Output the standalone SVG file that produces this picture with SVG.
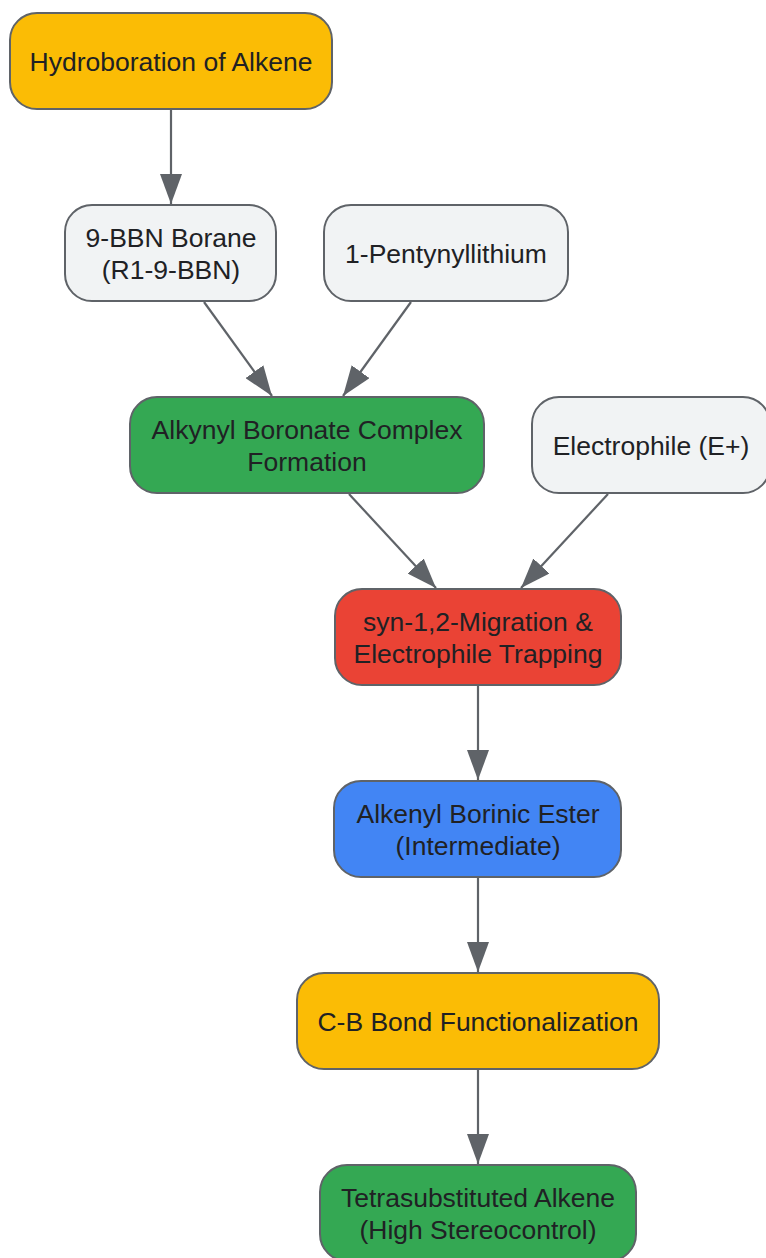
<svg xmlns="http://www.w3.org/2000/svg" width="766" height="1258" viewBox="0 0 766 1258">
<style>
.n{stroke:#5f6368;stroke-width:2}
.y{fill:#fbbc05}.g{fill:#f1f3f4}.gr{fill:#34a853}.r{fill:#ea4335}.b{fill:#4285f4}
text{font-family:"Liberation Sans",Arial,sans-serif;font-size:26.5px;fill:#202124;text-anchor:middle}
.e{stroke:#5f6368;stroke-width:2.2;fill:none;marker-end:url(#ah)}
</style>
<defs>
<marker id="ah" markerUnits="userSpaceOnUse" markerWidth="30" markerHeight="22" refX="30" refY="11" orient="auto">
<path d="M0,0 L30,11 L0,22 z" fill="#5f6368"/>
</marker>
</defs>
<rect width="766" height="1258" fill="#ffffff"/>
<g id="edges">
<line class="e" x1="171" y1="110" x2="171" y2="204"/>
<line class="e" x1="204" y1="302" x2="272" y2="396"/>
<line class="e" x1="411" y1="302" x2="343" y2="396"/>
<line class="e" x1="349" y1="494" x2="436" y2="588"/>
<line class="e" x1="608" y1="494" x2="521" y2="588"/>
<line class="e" x1="478" y1="686" x2="478" y2="780"/>
<line class="e" x1="478" y1="878" x2="478" y2="972"/>
<line class="e" x1="478" y1="1070" x2="478" y2="1164"/>
</g>
<g id="n1"><rect class="n y" x="10" y="13" width="322" height="96" rx="27"/><text x="171" y="71">Hydroboration of Alkene</text></g>
<g id="n2"><rect class="n g" x="65" y="205" width="211" height="96" rx="27"/><text x="171" y="247">9-BBN Borane</text><text x="171" y="279">(R1-9-BBN)</text></g>
<g id="n3"><rect class="n g" x="324" y="205" width="244" height="96" rx="27"/><text x="446" y="263">1-Pentynyllithium</text></g>
<g id="n4"><rect class="n gr" x="130" y="397" width="354" height="96" rx="27"/><text x="307" y="439">Alkynyl Boronate Complex</text><text x="307" y="471">Formation</text></g>
<g id="n5"><rect class="n g" x="532" y="397" width="238" height="96" rx="27"/><text x="651" y="455">Electrophile (E+)</text></g>
<g id="n6"><rect class="n r" x="335" y="589" width="286" height="96" rx="27"/><text x="478" y="631">syn-1,2-Migration &amp;</text><text x="478" y="663">Electrophile Trapping</text></g>
<g id="n7"><rect class="n b" x="334" y="781" width="287" height="96" rx="27"/><text x="478" y="823">Alkenyl Borinic Ester</text><text x="478" y="855">(Intermediate)</text></g>
<g id="n8"><rect class="n y" x="297" y="973" width="362" height="96" rx="27"/><text x="478" y="1031">C-B Bond Functionalization</text></g>
<g id="n9"><rect class="n gr" x="320" y="1165" width="316" height="96" rx="27"/><text x="478" y="1207">Tetrasubstituted Alkene</text><text x="478" y="1239">(High Stereocontrol)</text></g>
</svg>
